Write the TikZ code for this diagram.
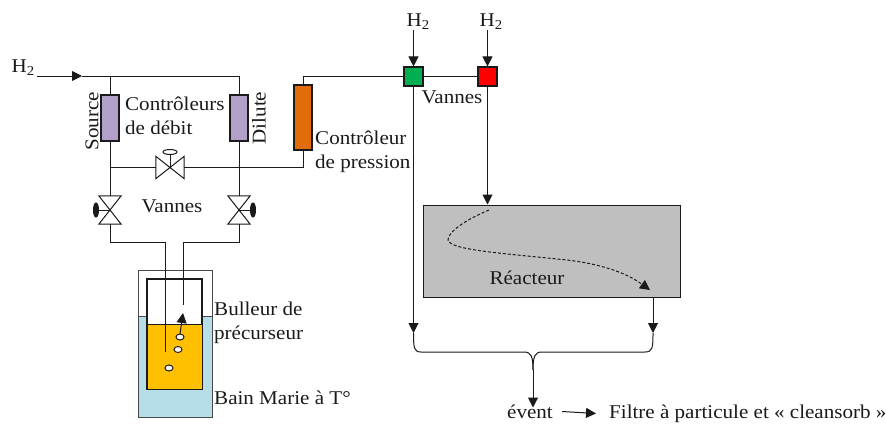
\documentclass[tikz,border=0pt]{standalone}
\usepackage{fontspec}
\setmainfont[FakeStretch=1.08]{Liberation Serif}
\usepackage{tikz}
\usetikzlibrary{shapes,arrows.meta,positioning}

\definecolor{debit}{HTML}{B1A0C7}
\definecolor{pression}{HTML}{E36C0A}
\definecolor{vert}{HTML}{00B050}
\definecolor{eau}{HTML}{B7DDE8}
\definecolor{precurseur}{HTML}{FFC000}
\definecolor{reacteur}{HTML}{BFBFBF}
\definecolor{trait}{HTML}{1A1A1A}

\begin{document}
\begin{tikzpicture}[x=1pt, y=1pt, auto, font=\fontsize{19.5}{24}\selectfont, text=trait]
    \tikzstyle{line} = [draw=trait, line width=1pt]
    \tikzstyle{flow} = [line, -{Triangle[length=10pt,width=10pt]}]
    \tikzstyle{ctrl} = [rectangle, draw=trait, line width=1.3pt, minimum width=18pt, inner sep=0pt]
    \tikzstyle{vanne} = [rectangle, draw=trait, line width=1.1pt, minimum width=19pt, minimum height=19pt, inner sep=0pt]
    \tikzstyle{valvev} = [rectangle, minimum width=22pt, minimum height=28pt, inner sep=0pt]
    \tikzstyle{valveh} = [rectangle, minimum width=28pt, minimum height=22pt, inner sep=0pt]
    \tikzstyle{handle} = [ellipse, draw=trait, line width=1pt, inner sep=0pt]
    \tikzstyle{bubble} = [ellipse, draw=trait, fill=white, line width=1pt, minimum width=8pt, minimum height=6pt, inner sep=0pt]
    \tikzstyle{label} = [inner sep=0pt, align=left]
    \tikzstyle{vessel} = [rectangle, inner sep=0pt]

    \useasboundingbox (0,0) rectangle (886,-423);

    % controleurs de debit
    \node [ctrl, fill=debit, minimum height=46pt] (fcs) at (110,-118) {};
    \node [ctrl, fill=debit, minimum height=46pt, right of=fcs, node distance=129pt] (fcd) {};
    \node [valvev, below of=fcs, node distance=92pt] (vs) {};
    \node [valvev, below of=fcd, node distance=92pt] (vd) {};
    \node [valveh] (vb) at (170,-167.5) {};
    \node [ctrl, fill=pression, minimum height=65pt] (pc) at (303,-117.5) {};

    % vannes du haut
    \node [vanne, fill=vert] (vg) at (413.5,-76.5) {};
    \node [vanne, fill=red, right of=vg, node distance=74pt] (vr) {};

    % reacteur
    \node [vessel, draw=trait, line width=1pt, fill=reacteur, minimum width=257pt, minimum height=92pt] (reactor) at (551.5,-251) {};

    % bain et bulleur
    \node [vessel, draw=trait!80, line width=0.9pt, minimum width=74pt, minimum height=147pt] (bath) at (175,-343.5) {};
    \node [vessel, draw=trait!80, line width=0.9pt, fill=eau, minimum width=74pt, minimum height=101pt, below of=bath, node distance=23pt] (water) {};
    \node [vessel, draw=trait, line width=1.3pt, fill=white, minimum width=55pt, minimum height=110pt] (beaker) at (174.5,-334) {};
    \node [vessel, draw=trait, line width=1pt, fill=precurseur, minimum width=55pt, minimum height=65pt, below of=beaker, node distance=22.5pt] (liquid) {};
    \node [bubble] (b1) at (180,-337) {};
    \node [bubble] (b2) at (178,-349.5) {};
    \node [bubble] (b3) at (169,-368) {};

    % poignees
    \node [handle, fill=trait, minimum width=5pt, minimum height=14pt, left of=vs, node distance=14pt] (hs) {};
    \node [handle, fill=trait, minimum width=5pt, minimum height=14pt, right of=vd, node distance=14pt] (hd) {};
    \node [handle, minimum width=14pt, minimum height=5pt, above of=vb, node distance=15.5pt] (hb) {};

    % textes
    \node [label] (h2a) at (23,-68) {H$_{\mathrm{2}}$};
    \node [label] (h2b) at (418,-22) {H$_{\mathrm{2}}$};
    \node [label, right of=h2b, node distance=73pt] (h2c) {H$_{\mathrm{2}}$};
    \node [label, rotate=90] (src) at (92,-121) {Source};
    \node [label, rotate=90] (dil) at (259,-118) {Dilute};
    \node [label, anchor=west] (cd) at (125,-116) {Contrôleurs\\de débit};
    \node [label] (v1) at (172,-206) {Vannes};
    \node [label] (v2) at (452,-97) {Vannes};
    \node [label, anchor=west] (cp) at (315,-152) {Contrôleur\\de pression};
    \node [label] (rea) at (527,-278) {Réacteur};
    \node [label, anchor=west] (bul) at (214,-323) {Bulleur de\\précurseur};
    \node [label, anchor=west] (bain) at (214,-398) {Bain Marie à T°};
    \node [label] (event) at (530,-411.5) {évent};
    \node [label, anchor=west] (filtre) at (609,-413.5) {Filtre à particule et « cleansorb »};

    % points libres
    \coordinate (h2s) at (37,-76);
    \coordinate (h2t) at (82,-76);
    \coordinate (dipt) at (165.5,-242);
    \coordinate (dipb) at (165.5,-352);
    \coordinate (rett) at (183.5,-242);
    \coordinate (retb) at (183.5,-305);
    \coordinate (upa) at (180,-334);
    \coordinate (upb) at (183,-313);
    \coordinate (ventl) at (413.5,-333);
    \coordinate (ventr) at (653,-333);
    \coordinate (bm) at (533,-370);
    \coordinate (bn) at (533,-407.5);
    \coordinate (ba) at (489,-210);
    \coordinate (bb) at (650,-290);

    % corps des vannes
    \draw [line, fill=white] (vs.north west) -- (vs.south east) -- (vs.south west) -- (vs.north east) -- cycle;
    \draw [line, fill=white] (vd.north west) -- (vd.south east) -- (vd.south west) -- (vd.north east) -- cycle;
    \draw [line, fill=white] (vb.north west) -- (vb.south east) -- (vb.north east) -- (vb.south west) -- cycle;
    \path [line] (hs) -- (vs.center);
    \path [line] (hd) -- (vd.center);
    \path [line] (hb) -- (vb.center);

    \path [flow] (h2s) -- (h2t);
    \path [line] (h2t) -- (fcd |- h2t) -- (fcd);
    \path [line] (fcs |- h2t) -- (fcs);
    \path [line] (fcs) -- (vs.north);
    \path [line] (fcd) -- (vd.north);
    \path [line] (fcs |- vb) -- (vb.west);
    \path [line] (vb.east) -| (pc);
    \path [line] (pc) |- (vg);
    \path [line] (vg) -- (vr);
    \path [line] (vs.south) |- (dipt) -- (dipb);
    \path [line] (vd.south) |- (rett) -- (retb);
    \path [flow] (upa) -- (upb);

    \path [flow] (h2b.south -| vg) -- (vg);
    \path [flow] (h2c.south -| vr) -- (vr);
    \path [flow] (vr) -- (vr |- reactor.north);
    \path [flow] (vg) -- (ventl);
    \path [flow] (ventr |- reactor.south) -- (ventr);
    \path [flow, densely dashed] (ba) .. controls (465,-220) and (448,-232) .. (448,-240) .. controls (450,-250) and (500,-253) .. (567,-260) .. controls (600,-264) and (625,-272) .. (bb);

    % accolade
    \path [line] (ventl) .. controls (413.5,-348) and (414,-352) .. (421,-352) -- (524,-352) .. controls (531,-352) and (533,-356) .. (bm);
    \path [line] (ventr) .. controls (653,-348) and (652.5,-352) .. (645,-352) -- (542,-352) .. controls (535,-352) and (533,-356) .. (bm);
    \path [flow] (bm) -- (bn);
    \path [flow] ([xshift=9pt]event.east) -- ([xshift=-13pt]filtre.west);
\end{tikzpicture}
\end{document}
